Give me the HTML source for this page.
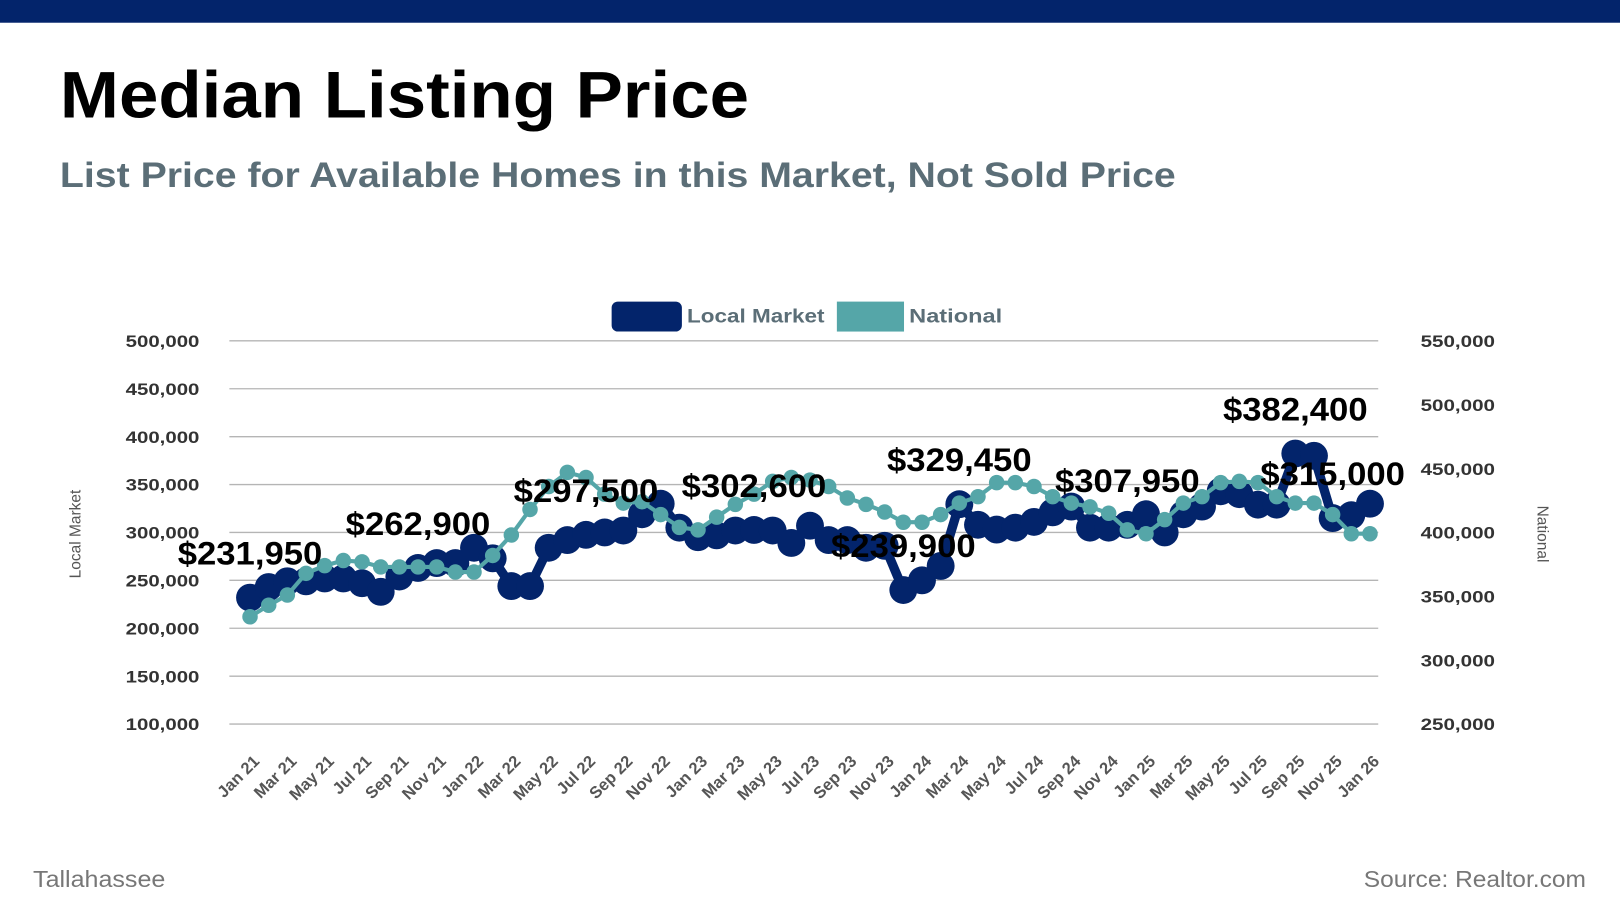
<!DOCTYPE html>
<html><head><meta charset="utf-8"><style>
html,body{margin:0;padding:0;background:#fff;}
svg{display:block;font-family:"Liberation Sans",sans-serif;}
</style></head><body>
<svg id="chart" width="1620" height="911" viewBox="0 0 1568 882" preserveAspectRatio="none" xmlns="http://www.w3.org/2000/svg">
<rect x="0" y="0" width="1568" height="22" fill="#03246b"/>
<text x="58" y="114" font-size="64" font-weight="bold" fill="#000" textLength="667" lengthAdjust="spacingAndGlyphs">Median Listing Price</text>
<text x="58" y="181" font-size="34" font-weight="bold" fill="#5b6e77" textLength="1080" lengthAdjust="spacingAndGlyphs">List Price for Available Homes in this Market, Not Sold Price</text>
<g>
<rect x="592" y="292" width="68" height="29" rx="6" fill="#03246b"/>
<text x="665" y="312" font-size="19" font-weight="bold" fill="#5b6e77" textLength="133" lengthAdjust="spacingAndGlyphs">Local Market</text>
<rect x="810" y="292" width="65" height="29" fill="#55a6a8"/>
<text x="880" y="312" font-size="19" font-weight="bold" fill="#5b6e77" textLength="90" lengthAdjust="spacingAndGlyphs">National</text>
</g>
<text transform="translate(78,517) rotate(-90)" text-anchor="middle" font-size="15" fill="#555">Local Market</text>
<text transform="translate(1488,517) rotate(90)" text-anchor="middle" font-size="15" fill="#555">National</text>
<g id="grid"></g><g id="ticks"></g><g id="series"></g><g id="labels"></g>
<text x="32" y="859" font-size="22" fill="#777" textLength="128" lengthAdjust="spacingAndGlyphs">Tallahassee</text>
<text x="1320" y="859" font-size="22" fill="#777" textLength="215" lengthAdjust="spacingAndGlyphs">Source: Realtor.com</text>
</svg>
<script>
const months = ["Jan","Feb","Mar","Apr","May","Jun","Jul","Aug","Sep","Oct","Nov","Dec"];
const categories = [];
for (let i = 0; i < 61; i++) categories.push(months[i % 12] + " " + (21 + Math.floor(i / 12)));
const localValues = [231950,243000,249000,249000,252000,252000,247000,238000,254000,262900,268000,268000,
284000,273000,244000,244000,284000,292000,297500,300000,302000,319000,330000,305000,
295000,297000,302000,302600,302000,289000,307000,292000,292000,284000,286000,239900,
250000,265000,329450,308000,303000,305000,311000,321000,327000,305000,305000,307950,
319000,300000,319000,327000,343000,340000,329000,329000,382400,380000,315000,318000,330000];
const nationalValues = [334000,343000,351000,368000,374000,378000,377000,373000,373000,373000,373000,369000,
369000,382000,398000,418000,436000,447000,443000,430000,423000,424000,414000,404000,
402000,412000,422000,430000,440000,443000,441000,436000,427000,422000,416000,408000,
408000,414000,423000,428000,439000,439000,436000,428000,423000,420000,415000,402000,
399000,410000,423000,428000,439000,440000,439000,428000,423000,423000,414000,399000,399000];
const labeledIndices = [0,9,18,27,35,38,47,56,58];
const leftTicks = [100000,150000,200000,250000,300000,350000,400000,450000,500000];
const rightTicks = [250000,300000,350000,400000,450000,500000,550000];

const NS = "http://www.w3.org/2000/svg";
const X0 = 242, X1 = 1326, YB = 701, YT = 330;
const xs = i => X0 + (X1 - X0) * i / (categories.length - 1);
const yL = v => YB - (v - 100000) / 400000 * (YB - YT);
const yR = v => YB - (v - 250000) / 300000 * (YB - YT);
function mk(tag, attrs, parent, txt) {
  const e = document.createElementNS(NS, tag);
  for (const k in attrs) e.setAttribute(k, attrs[k]);
  if (txt !== undefined) e.textContent = txt;
  parent.appendChild(e); return e;
}
const grid = document.getElementById("grid"), ticks = document.getElementById("ticks"),
      series = document.getElementById("series"), labels = document.getElementById("labels");
const fmt = v => v.toLocaleString("en-US");
leftTicks.forEach(v => {
  const l = mk("line", {x1:222, x2:1334, y1:yL(v), y2:yL(v), stroke:"#b5b5b5", "stroke-width":1.3}, grid);
  
  
  const s = fmt(v);
  const t = mk("text", {x:193 - s.length * 10.2, y:yL(v)+6, "font-size":16, "font-weight":"bold", fill:"#333", textLength:s.length * 10.2, lengthAdjust:"spacingAndGlyphs"}, ticks, s);
  
  
});
rightTicks.forEach(v => {
  const t = mk("text", {x:1375, y:yR(v)+6, "font-size":16, "font-weight":"bold", fill:"#333", textLength:72, lengthAdjust:"spacingAndGlyphs"}, ticks, fmt(v));
  
  
});
categories.forEach((c, i) => {
  if (i % 2) return;
  const t = mk("text", {transform:`translate(${xs(i)+10},${738}) rotate(-45)`, "text-anchor":"end", "font-size":16, "font-weight":"bold", fill:"#555"}, ticks, c);
  
  
});
const lp = mk("polyline", {points: localValues.map((v,i)=>xs(i)+","+yL(v)).join(" "), fill:"none", stroke:"#03246b", "stroke-width":9, "stroke-linejoin":"round"}, series);


localValues.forEach((v,i) => {
  const c = mk("circle", {cx:xs(i), cy:yL(v), r:13.5, fill:"#03246b"}, series);
  
  
});
const np = mk("polyline", {points: nationalValues.map((v,i)=>xs(i)+","+yR(v)).join(" "), fill:"none", stroke:"#55a6a8", "stroke-width":4, "stroke-linejoin":"round"}, series);


nationalValues.forEach((v,i) => {
  const c = mk("circle", {cx:xs(i), cy:yR(v), r:7.5, fill:"#55a6a8"}, series);
  
  
});
labeledIndices.forEach(i => {
  const t = mk("text", {x:xs(i), y:yL(localValues[i])-32, "text-anchor":"middle", "font-size":31, "font-weight":"bold", fill:"#000", textLength:140, lengthAdjust:"spacingAndGlyphs"}, labels, "$" + fmt(localValues[i]));
  
  
});
</script>
</body></html>
